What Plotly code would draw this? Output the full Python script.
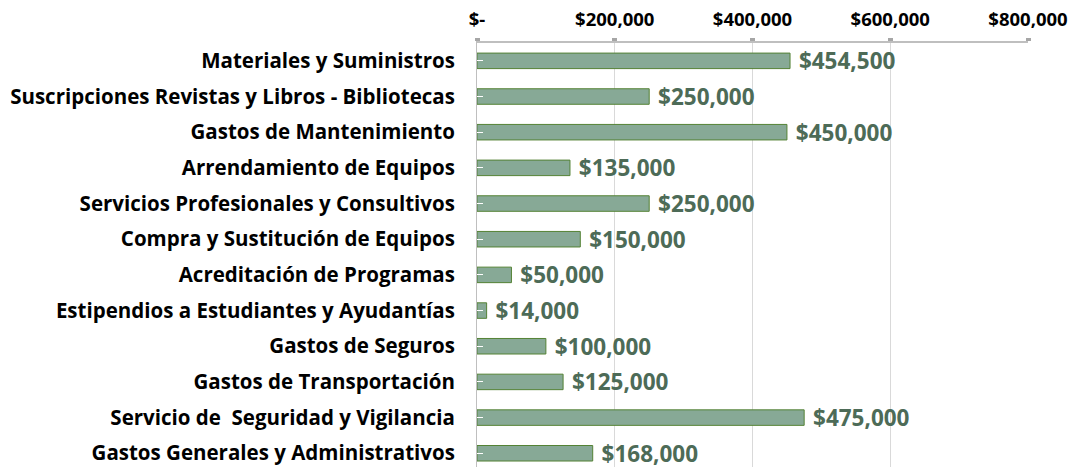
import plotly.graph_objects as go

categories = [
    "Materiales y Suministros",
    "Suscripciones Revistas y Libros - Bibliotecas",
    "Gastos de Mantenimiento",
    "Arrendamiento de Equipos",
    "Servicios Profesionales y Consultivos",
    "Compra y Sustitución de Equipos",
    "Acreditación de Programas",
    "Estipendios a Estudiantes y Ayudantías",
    "Gastos de Seguros",
    "Gastos de Transportación",
    "Servicio de  Seguridad y Vigilancia",
    "Gastos Generales y Administrativos",
]
values = [454500, 250000, 450000, 135000, 250000, 150000, 50000, 14000, 100000, 125000, 475000, 168000]
tick_vals = [0, 200000, 400000, 600000, 800000]
tick_text = ["$-", "$200,000", "$400,000", "$600,000", "$800,000"]

FONT = "Open Sans"

fig = go.Figure(go.Bar(
    x=values,
    y=categories,
    orientation="h",
    marker=dict(color="#87a996", line=dict(color="#548235", width=1)),
    text=[f"\u00a0${v:,.0f}" for v in values],
    textposition="outside",
    constraintext="none",
    cliponaxis=False,
    textfont=dict(family=FONT, size=22.5, color="#4d6b57", weight="bold"),
    hoverinfo="skip",
))

fig.update_layout(
    width=1072, height=467,
    margin=dict(l=477, r=44, t=43, b=0),
    paper_bgcolor="white", plot_bgcolor="white",
    bargap=0.565,
    showlegend=False,
    font=dict(family=FONT),
)
fig.update_xaxes(
    side="top", range=[0, 800000],
    tickvals=tick_vals, ticktext=tick_text,
    tickfont=dict(family=FONT, size=18.5, color="#000000", weight="bold"),
    ticklabelstandoff=5,
    showgrid=True, gridcolor="#d9d9d9", gridwidth=1,
    showline=True, linecolor="#bfbfbf", linewidth=1.5,
    ticks="outside", ticklen=3, tickwidth=5, tickcolor="#a6a6a6",
    zeroline=False, automargin=False,
)
fig.update_yaxes(
    categoryorder="array", categoryarray=categories,
    range=[11.385, -0.5],
    tickfont=dict(family=FONT, size=20.5, color="#000000", weight="bold"),
    ticklabelstandoff=17,
    ticks="inside", ticklen=6, tickcolor="#ffffff", tickwidth=1,
    showline=True, linecolor="#bfbfbf", linewidth=1,
    automargin=False,
)

fig.write_html(
    "out.html",
    config={"displayModeBar": False},
    post_script="document.body.style.margin='0';document.body.style.padding='0';",
)
